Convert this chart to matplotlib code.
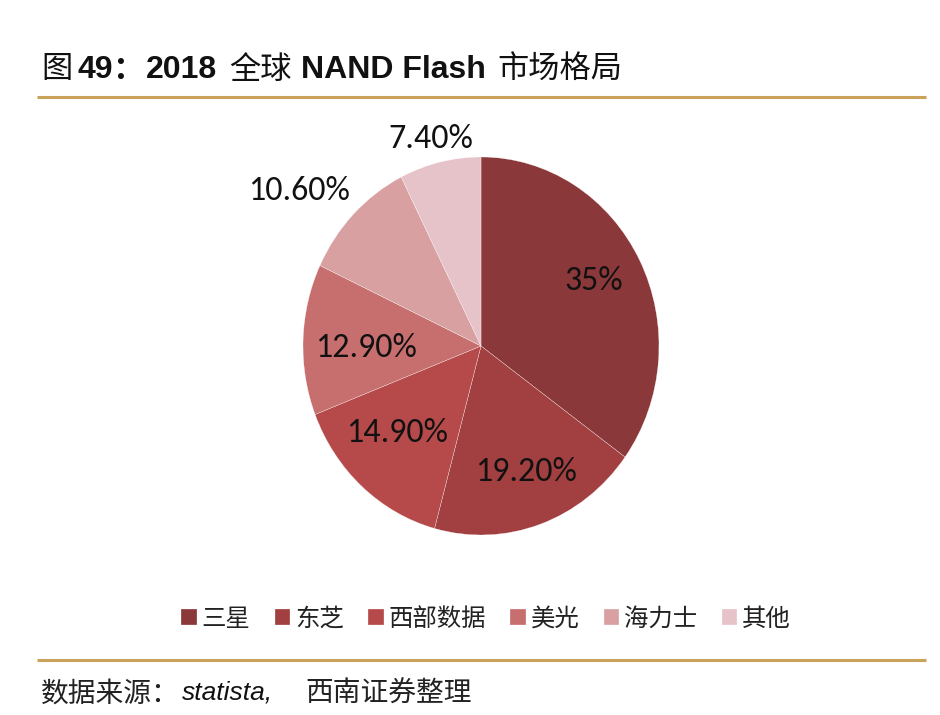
import matplotlib
matplotlib.use("Agg")
import matplotlib.pyplot as plt

W, H = 940, 715
companies = ["三星", "东芝", "西部数据", "美光", "海力士", "其他"]
shares = [35, 19.2, 14.9, 12.9, 10.6, 7.4]
share_labels = ["35%", "19.20%", "14.90%", "12.90%", "10.60%", "7.40%"]
colors = ["#8B383A", "#A23F40", "#B64A4B", "#C76E6F", "#D9A0A1", "#E6C3C9"]
label_offsets_px = [(113, -65), (45, 126), (-84, 87), (-115, 2), (-182, -155), (-50, -207)]
title_parts = [("图", 41, False), ("49", 78, True), ("\uff1a", 112, True), ("2018", 146, True), ("全球", 229, False),
               ("NAND Flash", 301, True), ("市场格局", 497, False)]
GOLD = "#C9A35A"
CJK = "Noto Sans CJK SC"
LAT = "Liberation Sans"

fig = plt.figure(figsize=(W / 100, H / 100), dpi=100, facecolor="white")

# Full-figure overlay in pixel coordinates for rules and headings
bg = fig.add_axes([0, 0, 1, 1])
bg.set_xlim(0, W)
bg.set_ylim(H, 0)
bg.axis("off")
bg.plot([37, 926], [97, 97], color=GOLD, lw=2.2, solid_capstyle="butt")
bg.plot([37, 926], [660, 660], color=GOLD, lw=2.2, solid_capstyle="butt")

for txt, x, bold in title_parts:
    bg.text(x, 67, txt, ha="left", va="center_baseline", fontsize=23 if bold else 22.5,
            fontweight="bold" if bold else "normal",
            family=[LAT, CJK], color="#111111")

bg.text(41, 690, "数据来源\uff1a", ha="left", va="center_baseline", fontsize=20, family=[CJK], color="#222222")
bg.text(182, 690, "statista,", ha="left", va="center_baseline", fontsize=19, style="italic",
        family=[LAT], color="#111111")
bg.text(305, 690, "西南证券整理", ha="left", va="center_baseline", fontsize=20, family=[CJK], color="#222222")

# Pie (the reference is stretched vertically, so the axes are not square)
RX, RY = 178, 189
cx, cy = 481, 346
ax = fig.add_axes([(cx - RX) / W, 1 - (cy + RY) / H, 2 * RX / W, 2 * RY / H])
wedges, texts = ax.pie(shares, colors=colors, startangle=90, counterclock=False, radius=1,
                       labels=share_labels, labeldistance=0.7,
                       wedgeprops=dict(edgecolor="white", linewidth=0.2),
                       textprops=dict(fontsize=24.5, family=["Carlito", "Open Sans"], color="#111111"))
ax.set_xlim(-1, 1)
ax.set_ylim(-1, 1)
ax.set_aspect("auto")
for t, (dx, dy) in zip(texts, label_offsets_px):
    t.set_position((dx / RX, -dy / RY))
    t.set_ha("center")
    t.set_va("center")
    t.set_clip_on(False)

leg = fig.legend(wedges, companies, loc="center", bbox_to_anchor=(486 / W, 1 - 619 / H), ncol=6,
                 frameon=False, prop=dict(family=CJK, size=17.6),
                 handlelength=0.63, handleheight=0.63, handletextpad=0.2,
                 columnspacing=1.0, borderpad=0, labelcolor="#222222")

fig.savefig("out.png", dpi=100, facecolor="white")
